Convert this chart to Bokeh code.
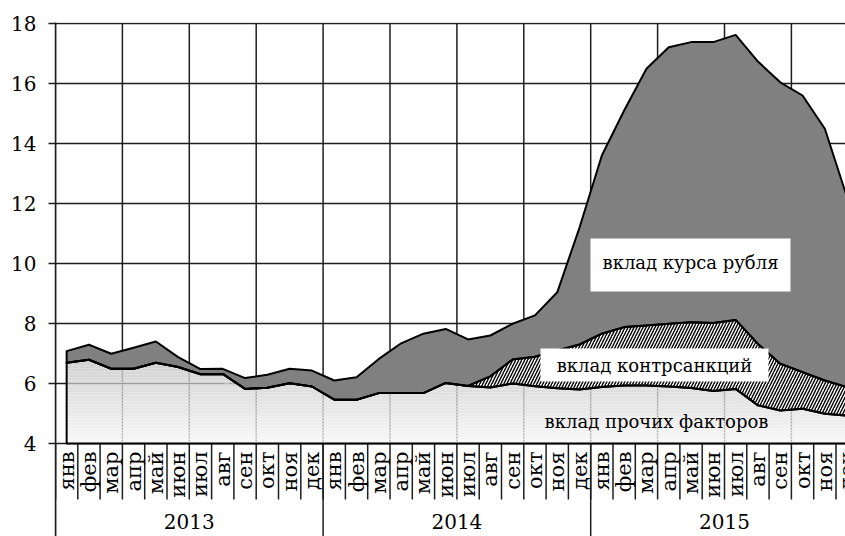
import numpy as np
from bokeh.plotting import figure
from bokeh.models import Range1d, FixedTicker
from bokeh.core.properties import value
from bokeh.embed import file_html
from bokeh.resources import INLINE

# ---------------- data ----------------
months = ["янв", "фев", "мар", "апр", "май", "июн", "июл", "авг", "сен", "окт", "ноя", "дек"]
years = ["2013", "2014", "2015"]

# contribution of other factors (level of the lower area)
other = [6.69, 6.79, 6.49, 6.49, 6.69, 6.55, 6.31, 6.32, 5.82, 5.86, 6.01, 5.90,
         5.46, 5.46, 5.68, 5.68, 5.68, 6.02, 5.92, 5.87, 6.00, 5.91, 5.84, 5.80,
         5.88, 5.93, 5.93, 5.90, 5.85, 5.75, 5.82, 5.27, 5.10, 5.16, 4.99, 4.93]
# contribution of counter-sanctions
sanctions = [0, 0, 0, 0, 0, 0, 0, 0, 0, 0, 0, 0,
             0, 0, 0, 0, 0, 0, 0, 0.37, 0.80, 0.98, 1.26, 1.50,
             1.78, 1.95, 2.00, 2.09, 2.19, 2.27, 2.30, 2.05, 1.56, 1.22, 1.11, 0.95]
# contribution of the ruble exchange rate
ruble = [0.39, 0.50, 0.50, 0.70, 0.71, 0.33, 0.17, 0.17, 0.36, 0.43, 0.48, 0.53,
         0.64, 0.75, 1.14, 1.66, 1.98, 1.80, 1.55, 1.36, 1.19, 1.38, 1.94, 3.90,
         5.94, 7.22, 8.56, 9.22, 9.34, 9.36, 9.50, 9.41, 9.38, 9.22, 8.39, 6.32]

y_ticks = [4, 6, 8, 10, 12, 14, 16, 18]
series_labels = ["вклад курса рубля", "вклад контрсанкций", "вклад прочих факторов"]

# ---------------- geometry ----------------
n = len(other)
x = np.arange(n) + 0.5
base = y_ticks[0]
lvl1 = np.array(other)
lvl2 = lvl1 + np.array(sanctions)
lvl3 = lvl2 + np.array(ruble)

PXM = 22.3      # px per month
PXU = 30.0      # px per unit
W, H = 845, 536
BL, BT = 55, 22
frame_w = W - BL
frame_h = H - BT
y_top = y_ticks[-1] + 1 / PXU
y_bot = y_top - frame_h / PXU

def dx(px):  # picture px -> data x
    return (px - BL) / PXM

def dy(py):  # picture px -> data y
    return y_top - (py - BT) / PXU

FONT = value("DejaVu Serif")
GRID = "#1e1e1e"

p = figure(width=W, height=H, x_range=Range1d(0, frame_w / PXM), y_range=Range1d(y_bot, y_top),
           output_backend="svg", toolbar_location=None, x_axis_location=None,
           min_border_left=BL, min_border_right=0, min_border_top=BT, min_border_bottom=0)
p.outline_line_color = None
p.background_fill_color = "white"
p.border_fill_color = "white"

# y axis
p.yaxis.ticker = FixedTicker(ticks=y_ticks)
p.yaxis.minor_tick_line_color = None
p.yaxis.major_tick_out = 7
p.yaxis.major_tick_in = 0
p.yaxis.major_tick_line_color = GRID
p.yaxis.major_tick_line_width = 1.5
p.yaxis.axis_line_color = GRID
p.yaxis.axis_line_width = 1.5
p.yaxis.major_label_standoff = 12
p.yaxis.major_label_text_font = "DejaVu Serif"
p.yaxis.major_label_text_font_size = "20px"
p.yaxis.major_label_text_color = "black"

# grid
p.xgrid.visible = False
p.ygrid.ticker = FixedTicker(ticks=y_ticks)
p.ygrid.grid_line_color = GRID
p.ygrid.grid_line_width = 1.5
vg = np.arange(0, n, 3)
p.segment(x0=vg, y0=[base] * len(vg), x1=vg, y1=[y_ticks[-1]] * len(vg),
          line_color=GRID, line_width=1.5, level="underlay")

# category axis (months / years)
mb = np.arange(0, n + 1)
p.segment(x0=mb, y0=[base] * len(mb), x1=mb, y1=[base - 56 / PXU] * len(mb),
          line_color=GRID, line_width=1.5)
yb = np.arange(0, n + 1, 12)
p.segment(x0=yb, y0=[base] * len(yb), x1=yb, y1=[y_bot] * len(yb),
          line_color=GRID, line_width=1.5)
month_text = [months[i % 12] for i in range(n)]
p.text(x=x, y=[base - 8 / PXU] * n, text=month_text, angle=np.pi / 2,
       text_align="right", text_baseline="middle", text_font=FONT,
       text_font_size="21px", text_color="black")
p.text(x=[6, 18, 30], y=[dy(521)] * 3, text=years, text_align="center",
       text_baseline="middle", text_font=FONT, text_font_size="20px", text_color="black")

# lower area: vertical gradient from light gray to near white
steps = np.arange(base, lvl1.max() + 0.1, 0.1)
top_g = 7.0
for lo in steps:
    hi = lo + 0.1
    t = min(max((lo + 0.05 - base) / (top_g - base), 0), 1)
    c = int(round(247 - t * (247 - 198)))
    col = "#%02x%02x%02x" % (c, c, c)
    p.varea(x=x, y1=np.minimum(lvl1, lo), y2=np.minimum(lvl1, hi),
            fill_color=col, fill_alpha=0.88)

# counter-sanctions: hatched
p.varea(x=x, y1=lvl1, y2=lvl2, fill_color="white", hatch_pattern="/",
        hatch_color="black", hatch_scale=6, hatch_weight=1.4)
# ruble: dark gray
p.varea(x=x, y1=lvl2, y2=lvl3, fill_color="#808080")

# outlines
def outline(lower, upper):
    xs = np.concatenate([x, x[::-1]])
    ys = np.concatenate([upper, lower[::-1]])
    p.patch(xs, ys, fill_alpha=0, line_color="black", line_width=2, line_join="round")

outline(np.full(n, float(base)), lvl1)
outline(lvl1, lvl2)
outline(lvl2, lvl3)

# series labels
p.quad(left=[dx(590), dx(540)], right=[dx(790), dx(768)],
       top=[dy(238), dy(348)], bottom=[dy(291), dy(381)],
       fill_color="white", line_color=None)
p.text(x=[dx(690), dx(654), dx(656)], y=[dy(262), dy(365), dy(421)], text=series_labels,
       text_align="center", text_baseline="middle", text_font=FONT,
       text_font_size="18px", text_color="black")

open("out.html", "w").write(file_html(p, INLINE))
